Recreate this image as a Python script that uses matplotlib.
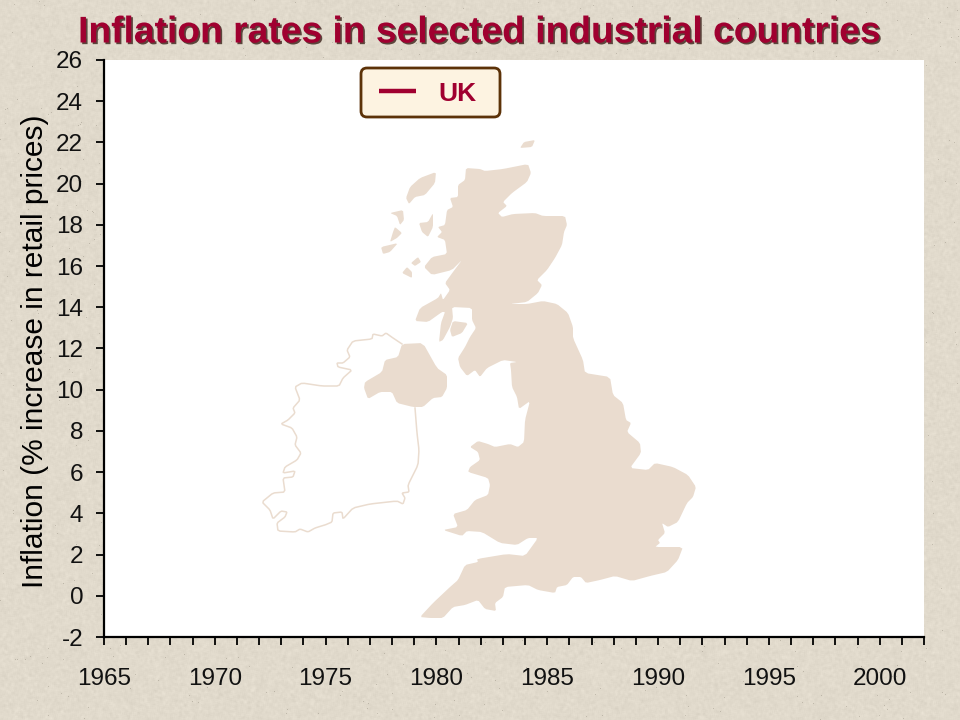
#!/usr/bin/env python3
import numpy as np
import matplotlib
matplotlib.use('Agg')
import matplotlib.pyplot as plt
import matplotlib.patheffects as pe
from matplotlib.lines import Line2D
from matplotlib.patches import FancyBboxPatch, Polygon
from matplotlib.ticker import FuncFormatter
from matplotlib.transforms import Affine2D

plt.rcParams['font.family'] = ['Liberation Sans', 'DejaVu Sans']

title = 'Inflation rates in selected industrial countries'
ylabel = 'Inflation (% increase in retail prices)'
year_range = (1965, 2002)
year_labels = [1965, 1970, 1975, 1980, 1985, 1990, 1995, 2000]
inflation_labels = list(range(-2, 27, 2))
# the uk series has not been revealed yet on this slide, only its legend entry
uk_years = []
uk_inflation = []

RED = '#A00030'
LAND = '#EADCCF'

# backdrop map, traced in image pixels
great_britain = [
    (466, 168), (480, 169), (485, 171), (503, 169), (528, 164), (531, 173), (527, 182), (512, 193),
    (503, 202), (507, 206), (498, 213), (502, 217), (513, 214), (535, 213), (543, 216), (565, 216),
    (567, 225), (564, 232), (562, 245), (555, 258), (547, 270), (537, 280), (542, 285), (538, 293),
    (527, 302), (510, 304), (527, 304), (543, 301), (557, 304), (568, 313), (573, 327), (573, 338),
    (583, 360), (585, 373), (610, 377), (613, 395), (623, 403), (626, 420), (631, 423), (627, 432),
    (640, 443), (641, 453), (630, 468), (648, 470), (655, 463), (673, 467), (688, 475), (696, 487),
    (693, 497), (687, 503), (678, 522), (668, 527), (662, 523), (665, 533), (658, 540), (660, 543),
    (655, 547), (683, 547), (678, 560), (667, 572), (650, 576), (632, 581), (615, 576), (600, 580),
    (586, 583), (581, 577), (573, 577), (567, 585), (557, 587), (555, 593), (538, 590), (528, 585),
    (505, 587), (503, 597), (495, 603), (496, 611), (485, 609), (478, 600), (465, 605), (453, 607),
    (443, 618), (430, 618), (420, 617), (433, 603), (450, 587), (458, 580), (465, 565), (478, 562),
    (477, 559), (507, 554), (525, 556), (538, 538), (528, 538), (517, 545), (500, 543), (482, 532),
    (467, 531), (462, 536), (443, 530), (458, 527), (453, 514), (467, 510), (475, 500), (488, 495),
    (490, 485), (488, 478), (468, 472), (470, 467), (480, 460), (478, 452), (470, 447), (478, 441),
    (488, 444), (495, 447), (510, 444), (518, 447), (524, 442), (525, 420), (530, 401), (519, 409),
    (517, 397), (512, 387), (511, 370), (510, 363), (517, 362), (503, 360), (487, 368), (480, 377),
    (475, 370), (467, 376), (460, 367), (458, 358), (465, 347), (470, 337), (476, 328), (472, 320),
    (472, 308), (452, 307), (453, 318), (450, 327), (443, 340), (439, 342), (441, 323), (445, 312),
    (442, 312), (428, 322), (415, 321), (420, 308), (438, 298), (441, 293), (443, 300), (450, 290),
    (445, 283), (453, 272), (462, 260), (452, 270), (432, 275), (424, 267), (432, 257), (447, 254),
    (445, 240), (437, 237), (442, 232), (438, 227), (445, 225), (447, 210), (453, 207), (450, 198),
    (458, 197), (458, 185), (465, 180),
]
scottish_islands = [
    [(520, 148), (524, 142), (535, 140), (532, 147)],
    [(436, 172), (435, 183), (425, 195), (415, 197), (409, 204), (406, 198), (410, 187), (420, 178)],
    [(390, 213), (403, 210), (404, 220), (400, 225), (397, 216)],
    [(395, 227), (402, 233), (397, 238), (390, 242), (393, 232)],
    [(381, 247), (398, 243), (390, 252), (383, 254)],
    [(433, 213), (433, 227), (428, 237), (422, 232), (419, 223), (428, 222)],
    [(411, 263), (418, 257), (421, 262), (415, 266)],
    [(402, 273), (407, 267), (412, 272), (412, 278)],
    [(453, 321), (468, 323), (462, 333), (452, 337), (450, 330)],
]
northern_ireland = [
    (402, 344), (423, 343), (437, 368), (447, 375), (447, 388), (442, 397), (433, 398), (423, 407),
    (413, 407), (397, 403), (392, 392), (380, 392), (368, 399), (364, 388), (365, 382), (382, 372),
    (385, 360), (398, 357),
]
ireland_outline = [
    (402, 344), (393, 338), (386, 333), (382, 336), (373, 334), (372, 339), (353, 341), (347, 350),
    (350, 357), (343, 363), (337, 363), (338, 367), (352, 370), (343, 378), (339, 386), (322, 386),
    (302, 383), (295, 387), (300, 400), (293, 408), (295, 413), (288, 420), (281, 424), (292, 428),
    (297, 437), (295, 445), (301, 453), (297, 460), (285, 467), (283, 473), (295, 471), (293, 477),
    (283, 478), (285, 492), (273, 493), (262, 502), (270, 510), (273, 519), (281, 511), (287, 512),
    (285, 517), (277, 523), (278, 531), (295, 532), (300, 529), (308, 532), (315, 528), (325, 525),
    (332, 522), (333, 513), (342, 512), (343, 519), (353, 508), (370, 504), (397, 501), (403, 504),
    (405, 498), (402, 493), (409, 492), (408, 485), (418, 465), (419, 450), (417, 433), (415, 408),
]


def soften(pts, closed=True, q=0.12):
    # one pass of corner cutting, the traced outline is too angular otherwise
    pts = np.array(pts, dtype=float)
    nxt = np.roll(pts, -1, axis=0)
    a = pts + (nxt - pts) * q
    b = pts + (nxt - pts) * (1 - q)
    out = np.empty((len(pts) * 2, 2))
    out[::2] = a
    out[1::2] = b
    if not closed:
        out = np.vstack([pts[0], out[:-2], pts[-1]])
    return out


def background():
    rng = np.random.RandomState(3)
    noise = rng.normal(0, 1, (720, 960))
    kernel = np.ones(3) / 3
    smooth = np.apply_along_axis(lambda r: np.convolve(r, kernel, mode='same'), 1, noise)
    smooth = np.apply_along_axis(lambda c: np.convolve(c, kernel, mode='same'), 0, smooth)
    base = np.array([225, 218, 204]) / 255
    img = base[None, None, :] + smooth[:, :, None] * 0.026
    # a few darker flecks
    specks = rng.random_sample((720, 960)) > 0.9985
    img[specks] -= 0.13
    return np.clip(img, 0, 1)


def main():
    fig = plt.figure(figsize=(9.6, 7.2), dpi=100)

    bg = fig.add_axes([0, 0, 1, 1], zorder=0)
    bg.imshow(background(), aspect='auto', interpolation='nearest')
    bg.axis('off')

    ax = fig.add_axes([104 / 960, 1 - 637 / 720, 820 / 960, 577 / 720], zorder=1)
    ax.set_facecolor('white')
    ax.set_xlim(*year_range)
    ax.set_ylim(-2, 26)
    ax.set_xticks(year_labels)
    ax.set_xticks(range(year_range[0], year_range[1] + 1), minor=True)
    ax.set_yticks(inflation_labels)
    ax.yaxis.set_major_formatter(FuncFormatter(lambda v, _: '%d' % v))
    ax.tick_params(axis='both', which='both', direction='out', length=6, width=1.3, color='black')
    ax.tick_params(axis='x', which='major', labelsize=17.5, pad=16, labelcolor='#111111')
    ax.tick_params(axis='y', labelsize=17.5, pad=9, labelcolor='#111111')
    for side in ('top', 'right'):
        ax.spines[side].set_visible(False)
    for side in ('left', 'bottom'):
        ax.spines[side].set_linewidth(1.6)

    pixels = Affine2D().scale(1 / 960, -1 / 720).translate(0, 1) + fig.transFigure
    for pts in [great_britain, northern_ireland] + scottish_islands:
        ax.add_patch(Polygon(soften(pts), closed=True, facecolor=LAND, edgecolor='none',
                             transform=pixels, clip_on=False, zorder=1))
    line = soften(ireland_outline, closed=False)
    ax.plot(line[:, 0], line[:, 1], color=LAND, lw=1.1, transform=pixels, clip_on=False, zorder=1)

    ax.plot(uk_years, uk_inflation, color=RED, lw=3.5, label='UK')

    # legend box, drawn by hand since ax.legend pads all sides the same
    ax.add_patch(FancyBboxPatch((366, 73), 129, 39, boxstyle='round,pad=5,rounding_size=6',
                                facecolor='#FDF3E1', edgecolor='#5C3208', lw=2.0,
                                transform=pixels, clip_on=False, zorder=5))
    ax.add_line(Line2D([379, 416], [91, 91], color=RED, lw=3.2, transform=pixels,
                       clip_on=False, zorder=6, solid_capstyle='butt'))
    ax.text(457, 94, 'UK', color=RED, fontsize=19, fontweight='bold', ha='center', va='center',
            transform=pixels, clip_on=False, zorder=6)

    fig.text(480 / 960, 1 - 33 / 720, title, ha='center', va='center', fontsize=26.8,
             fontweight='bold', color=RED, zorder=3,
             path_effects=[pe.withSimplePatchShadow(offset=(1.2, -1.2), shadow_rgbFace='#3A2018', alpha=0.8)])
    fig.text(35 / 960, 1 - 351 / 720, ylabel, rotation=90, ha='center', va='center',
             fontsize=21.5, color='black', zorder=3)

    fig.savefig('out.png', dpi=100)


if __name__ == '__main__':
    main()
